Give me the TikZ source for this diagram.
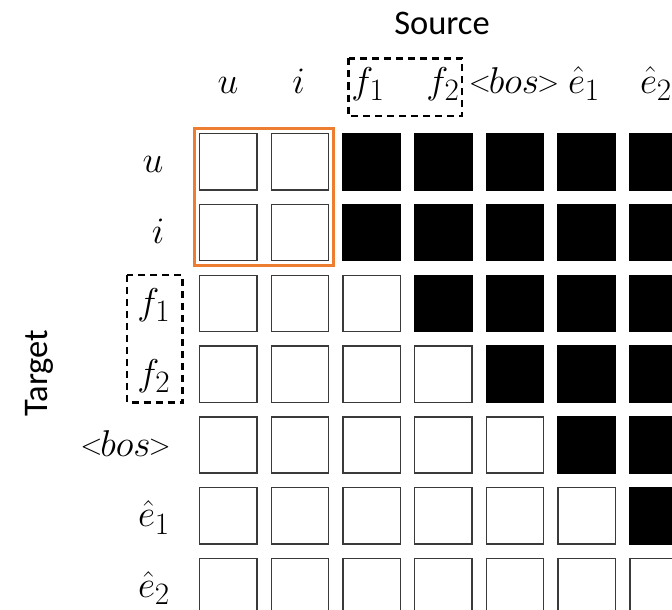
\documentclass[tikz,border=0pt]{standalone}
\usepackage{fontspec}
\usepackage{graphicx}
\setmainfont{Carlito}
\usetikzlibrary{fit}
\definecolor{boxorange}{HTML}{ED7D31}
\definecolor{cellgray}{HTML}{3A3A3A}
\newcommand{\mlab}[1]{\scalebox{1.5}{\Huge$#1$}}
\newcommand{\smallrel}[1]{\mathord{\raisebox{0.04em}{\scalebox{0.78}{$#1$}}}}
\newcommand{\boslab}{\mlab{\smallrel{<}\mkern-1mu bos\mkern-1mu\smallrel{>}}}
\begin{document}
\begin{tikzpicture}[x=1pt,y=-1pt,
  cellw/.style={draw=cellgray,line width=1.4pt,fill=white,minimum width=57.2pt,minimum height=56.2pt,inner sep=0pt,anchor=north west},
  cellb/.style={draw=black,line width=1.4pt,fill=black,minimum width=57.2pt,minimum height=56.2pt,inner sep=0pt,anchor=north west},
  lab/.style={inner sep=0pt},
  ttl/.style={font=\fontsize{34.5}{34.5}\selectfont,inner sep=0pt},
  dbox/.style={draw=black,line width=2.6pt,dash pattern=on 7pt off 5pt},
  obox/.style={draw=boxorange,line width=3.3pt}]
\useasboundingbox (0,0) rectangle (672,610);
\clip (0,0) rectangle (672,610);
% cells
\foreach \r in {1,...,7}{
  \foreach \c in {1,...,7}{
    \pgfmathtruncatemacro{\t}{max(\r+1,3)}
    \pgfmathsetmacro{\xx}{198.9+(\c-1)*71.7}
    \pgfmathsetmacro{\yy}{132.9+(\r-1)*70.8}
    \ifnum\c<\t
      \node[cellw] (c\r\c) at (\xx,\yy) {};
    \else
      \node[cellb] (c\r\c) at (\xx,\yy) {};
    \fi
  }
}
% orange box
\node[obox,fit=(c11)(c22),inner sep=4.2pt] (ob) {};
% titles
\node[ttl,anchor=base] (src) at (442,35) {Source};
\node[ttl,rotate=90] (tgt) at (39,373) {Target};
% column labels
\node[lab,anchor=base] (hu) at (228,93) {\mlab{u}};
\node[lab,anchor=base] (hi) at (298.5,93) {\mlab{i}};
\node[lab,anchor=base] (hf1) at (368,93) {\mlab{f_1}};
\node[lab,anchor=base] (hf2) at (443,93) {\mlab{f_2}};
\node[lab,anchor=base] (hb) at (514,93) {\boslab};
\node[lab,anchor=base] (he1) at (584,93) {\mlab{\hat{e}_1}};
\node[lab,anchor=base] (he2) at (656,93) {\mlab{\hat{e}_2}};
% row labels
\node[lab,anchor=base] (ru) at (153,172.7) {\mlab{u}};
\node[lab,anchor=base] (ri) at (158,243.5) {\mlab{i}};
\node[lab,anchor=base] (rf1) at (154,314.3) {\mlab{f_1}};
\node[lab,anchor=base] (rf2) at (154,385) {\mlab{f_2}};
\node[lab,anchor=base east] (rb) at (171,456) {\boslab};
\node[lab,anchor=base] (re1) at (154,526.8) {\mlab{\hat{e}_1}};
\node[lab,anchor=base] (re2) at (154,597.6) {\mlab{\hat{e}_2}};
% dashed boxes
\draw[dbox] (348.5,58.5) rectangle (462,116);
\draw[dbox] (127,275) rectangle (182.5,402.5);
\end{tikzpicture}
\end{document}
